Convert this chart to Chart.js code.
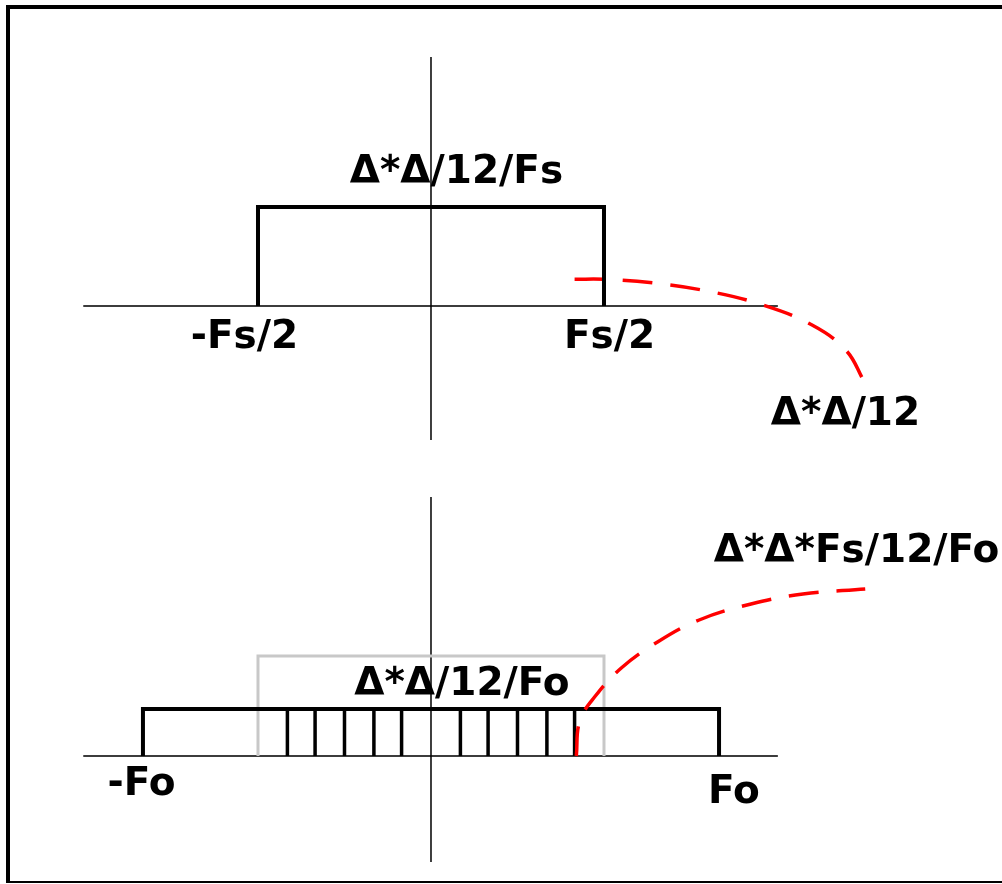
<!DOCTYPE html>
<html>
<head>
<meta charset="utf-8">
<title>Quantization noise spectrum: Nyquist vs oversampled</title>
<script src="https://cdn.jsdelivr.net/npm/chart.js@4.4.1/dist/chart.umd.min.js"></script>
<style>
  html, body { margin: 0; padding: 0; background: #fff; overflow: hidden; }
  body { width: 1002px; height: 884px; position: relative; }
  #frame {
    position: absolute; left: 6px; top: 5px; width: 1100px; height: 872px;
    border-top: 4px solid #000; border-left: 4px solid #000; border-bottom: 2px solid #000;
  }
  canvas { position: absolute; left: 0; }
  #top { top: 0; }
  #bottom { top: 442px; }
</style>
</head>
<body>
<div id="frame"></div>
<canvas id="top" width="1002" height="442"></canvas>
<canvas id="bottom" width="1002" height="442"></canvas>
<script>
// Frequency in units of Fs/2; spectral level relative to the Nyquist-rate noise floor.
const halfFs = 1.0;          // Fs/2
const Fo = 1.665;            // oversampled band edge (Fo)
const axisSpan = [-2.01, 2.005];

// Noise density levels
const nyquistLevel = 1.0;      // Δ*Δ/12/Fs
const oversampledLevel = 0.47; // Δ*Δ/12/Fo

// In-band slices of the oversampled spectrum
const stemFreqs = [-0.83, -0.67, -0.5, -0.33, -0.17, 0.17, 0.33, 0.5, 0.67, 0.83];

// Callout curves (frequency, level)
const calloutTopX = [0.83, 1.0, 1.3, 1.6, 1.9, 2.2, 2.4, 2.5];
const calloutTopY = [0.27, 0.27, 0.23, 0.15, 0.02, -0.19, -0.45, -0.75];
const calloutBottomX = [0.84, 0.86, 0.95, 1.1, 1.3, 1.55, 1.85, 2.15, 2.51];
const calloutBottomY = [0.0, 0.35, 0.6, 0.88, 1.13, 1.36, 1.52, 1.62, 1.67];

// Text labels
const topLabels = ['Δ*Δ/12/Fs', '-Fs/2', 'Fs/2', 'Δ*Δ/12'];
const bottomLabels = ['Δ*Δ/12/Fo', 'Δ*Δ*Fs/12/Fo', '-Fo', 'Fo'];

const zip = (xs, ys) => xs.map((x, i) => ({ x, y: ys[i] }));
const boxPath = (x0, x1, h) => [{ x: x0, y: 0 }, { x: x0, y: h }, { x: x1, y: h }, { x: x1, y: 0 }];
const stemPath = (xs, h) => xs.flatMap(x => [{ x, y: 0 }, { x, y: h }, { x, y: null }]);

const FONT = 'bold 39px "DejaVu Sans", sans-serif';

// Label anchors in data units (centre x, baseline y)
const labelPlugin = {
  id: 'labels',
  afterDatasetsDraw(chart, args, opts) {
    const { ctx, scales } = chart;
    ctx.save();
    ctx.font = FONT;
    ctx.fillStyle = '#000';
    ctx.textAlign = 'center';
    ctx.textBaseline = 'alphabetic';
    opts.items.forEach(it => {
      ctx.fillText(it.text, scales.x.getPixelForValue(it.x), scales.y.getPixelForValue(it.y));
    });
    ctx.restore();
  }
};

const line = (data, color, width, order, extra) => Object.assign({
  type: 'line', data, borderColor: color, borderWidth: width, pointRadius: 0,
  fill: false, tension: 0, spanGaps: false, clip: false, order,
  borderCapStyle: 'butt', borderJoinStyle: 'miter'
}, extra || {});

function makeChart(id, yRange, datasets, labels) {
  return new Chart(document.getElementById(id), {
    type: 'scatter',
    data: { datasets },
    options: {
      responsive: false, animation: false, devicePixelRatio: 1,
      layout: { padding: 0 },
      plugins: { legend: { display: false }, tooltip: { enabled: false }, labels: { items: labels } },
      scales: {
        x: { type: 'linear', min: -2.4913, max: 3.3006, display: false },
        y: { type: 'linear', min: yRange[0], max: yRange[1], display: false }
      }
    },
    plugins: [labelPlugin]
  });
}

// Nyquist-rate sampling
makeChart('top', [-1.3737, 3.0909], [
  line([{ x: axisSpan[0], y: 0 }, { x: axisSpan[1], y: 0 }], '#3c3c3c', 2, 9),
  line([{ x: 0, y: 2.515 }, { x: 0, y: -1.354 }], '#000', 1.5, 8),
  line(boxPath(-halfFs, halfFs, nyquistLevel), '#000', 4, 3),
  line(zip(calloutTopX, calloutTopY), '#ff0000', 3.5, 5, { tension: 0.4, borderDash: [30, 18] })
], [
  { text: topLabels[0], x: 0.147, y: 1.242 },
  { text: topLabels[1], x: -1.078, y: -0.424 },
  { text: topLabels[2], x: 1.032, y: -0.424 },
  { text: topLabels[3], x: 2.396, y: -1.202 }
]);

// Oversampled
makeChart('bottom', [-1.28, 3.14], [
  line([{ x: axisSpan[0], y: 0 }, { x: axisSpan[1], y: 0 }], '#3c3c3c', 2, 9),
  line([{ x: 0, y: 2.59 }, { x: 0, y: -1.06 }], '#000', 1.5, 8),
  line(boxPath(-halfFs, halfFs, nyquistLevel), '#c8c8c8', 3, 7),
  line(boxPath(-Fo, Fo, oversampledLevel), '#000', 4, 4),
  line(stemPath(stemFreqs, oversampledLevel), '#000', 3.5, 4),
  line(zip(calloutBottomX, calloutBottomY), '#ff0000', 3.5, 1, { tension: 0.4, borderDash: [30, 18] })
], [
  { text: bottomLabels[0], x: 0.179, y: 0.61 },
  { text: bottomLabels[1], x: 2.46, y: 1.94 },
  { text: bottomLabels[2], x: -1.673, y: -0.39 },
  { text: bottomLabels[3], x: 1.751, y: -0.47 }
]);
</script>
</body>
</html>
